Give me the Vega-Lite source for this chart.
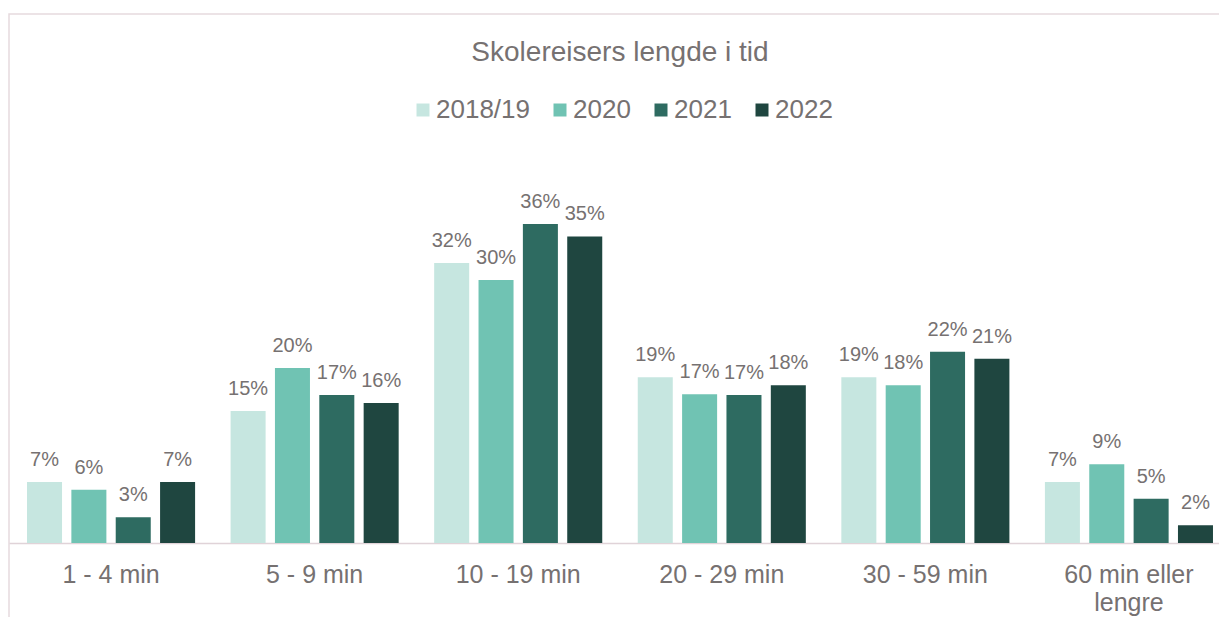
{
  "$schema": "https://vega.github.io/schema/vega-lite/v6.json",
  "width": 1222,
  "height": 620,
  "autosize": {"type": "none"},
  "padding": {"left": 9, "top": 14, "right": 0, "bottom": 0},
  "background": "white",
  "config": {
    "view": {"stroke": "#E6DADE", "strokeWidth": 1.5},
    "font": "Liberation Sans"
  },
  "title": {
    "text": "Skolereisers lengde i tid",
    "fontSize": 28,
    "font": "Liberation Sans",
    "fontWeight": "normal",
    "color": "#767171",
    "anchor": "middle",
    "frame": "group",
    "baseline": "alphabetic",
    "offset": 0,
    "dy": 75
  },
  "data": {
    "values": [
      {"kategori": "1 - 4 min", "aar": "2018/19", "andel": 0.069},
      {"kategori": "1 - 4 min", "aar": "2020", "andel": 0.060},
      {"kategori": "1 - 4 min", "aar": "2021", "andel": 0.029},
      {"kategori": "1 - 4 min", "aar": "2022", "andel": 0.069},
      {"kategori": "5 - 9 min", "aar": "2018/19", "andel": 0.149},
      {"kategori": "5 - 9 min", "aar": "2020", "andel": 0.1975},
      {"kategori": "5 - 9 min", "aar": "2021", "andel": 0.167},
      {"kategori": "5 - 9 min", "aar": "2022", "andel": 0.158},
      {"kategori": "10 - 19 min", "aar": "2018/19", "andel": 0.316},
      {"kategori": "10 - 19 min", "aar": "2020", "andel": 0.297},
      {"kategori": "10 - 19 min", "aar": "2021", "andel": 0.360},
      {"kategori": "10 - 19 min", "aar": "2022", "andel": 0.346},
      {"kategori": "20 - 29 min", "aar": "2018/19", "andel": 0.187},
      {"kategori": "20 - 29 min", "aar": "2020", "andel": 0.168},
      {"kategori": "20 - 29 min", "aar": "2021", "andel": 0.167},
      {"kategori": "20 - 29 min", "aar": "2022", "andel": 0.178},
      {"kategori": "30 - 59 min", "aar": "2018/19", "andel": 0.187},
      {"kategori": "30 - 59 min", "aar": "2020", "andel": 0.178},
      {"kategori": "30 - 59 min", "aar": "2021", "andel": 0.216},
      {"kategori": "30 - 59 min", "aar": "2022", "andel": 0.208},
      {"kategori": "60 min eller|lengre", "aar": "2018/19", "andel": 0.069},
      {"kategori": "60 min eller|lengre", "aar": "2020", "andel": 0.089},
      {"kategori": "60 min eller|lengre", "aar": "2021", "andel": 0.050},
      {"kategori": "60 min eller|lengre", "aar": "2022", "andel": 0.020}
    ]
  },
  "encoding": {
    "x": {
      "field": "kategori",
      "type": "nominal",
      "sort": null,
      "scale": {"paddingInner": 0.1744, "paddingOuter": 0.0885},
      "axis": {
        "title": null,
        "orient": "bottom",
        "offset": -91,
        "labelFontSize": 25,
        "labelColor": "#767171",
        "labelFont": "Liberation Sans",
        "labelAngle": 0,
        "ticks": false,
        "labelPadding": 19,
        "domainColor": "#E0D3D8",
        "domainWidth": 1.5,
        "labelExpr": "split(datum.label, '|')",
        "labelLineHeight": 28
      }
    },
    "xOffset": {
      "field": "aar",
      "type": "nominal",
      "sort": ["2018/19", "2020", "2021", "2022"],
      "scale": {"paddingInner": 0.2105, "paddingOuter": 0}
    },
    "y": {
      "field": "andel",
      "type": "quantitative",
      "scale": {"domain": [-0.1027, 0.5971], "nice": false, "zero": false},
      "axis": null
    }
  },
  "layer": [
    {
      "mark": {"type": "bar"},
      "encoding": {
        "y2": {"datum": 0},
        "color": {
          "field": "aar",
          "type": "nominal",
          "sort": ["2018/19", "2020", "2021", "2022"],
          "scale": {
            "domain": ["2018/19", "2020", "2021", "2022"],
            "range": ["#C6E6E0", "#70C3B3", "#2E6B61", "#1F4640"]
          },
          "legend": {
            "orient": "none",
            "legendX": 401,
            "legendY": 83,
            "direction": "horizontal",
            "title": null,
            "padding": 0,
            "symbolType": "square",
            "symbolSize": 169,
            "symbolStrokeWidth": 0,
            "labelFontSize": 26,
            "labelFont": "Liberation Sans",
            "labelColor": "#767171",
            "columnPadding": 17,
            "labelOffset": 0
          }
        }
      }
    },
    {
      "mark": {
        "type": "text",
        "baseline": "alphabetic",
        "dy": -16,
        "fontSize": 20,
        "font": "Liberation Sans",
        "color": "#767171"
      },
      "encoding": {
        "text": {"field": "andel", "type": "quantitative", "format": ".0%"}
      }
    }
  ]
}
